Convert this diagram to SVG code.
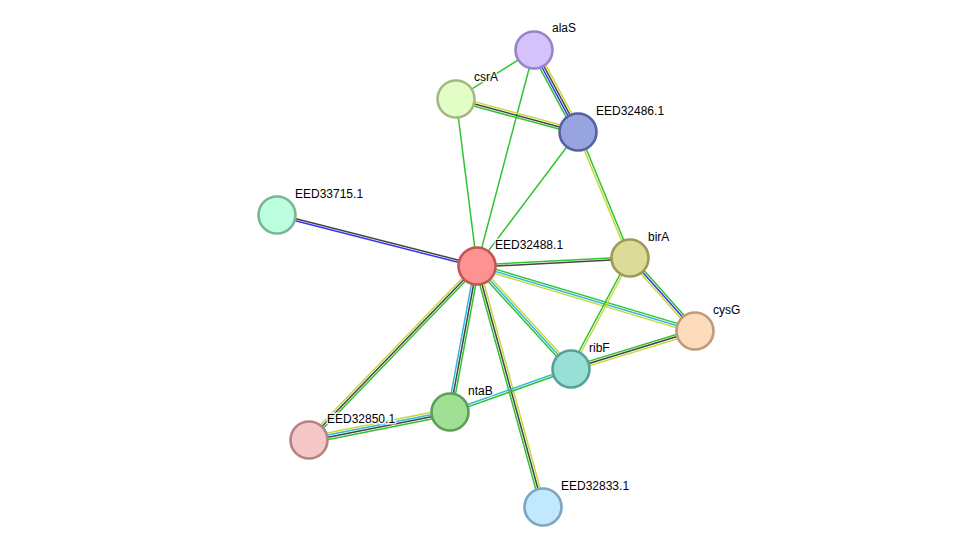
<svg xmlns="http://www.w3.org/2000/svg" width="976" height="553" viewBox="0 0 976 553">
<style>
line{stroke-width:1.5;fill:none}
.g{stroke:#2fc42f}.y{stroke:#c8d93a}.k{stroke:#444}.b{stroke:#3636f0}.c{stroke:#33b8dd}
circle{stroke-width:2.6}
text{font-family:"Liberation Sans",Arial,sans-serif;font-size:12px;fill:#000;stroke:#fff;stroke-width:3;stroke-opacity:0.8;paint-order:stroke;stroke-linejoin:round}
</style>
<rect width="976" height="553" fill="#fff"/>
<g id="connectors">
<g transform="translate(534,50) rotate(147.9)"><line class="g" x2="92.1"/></g>
<g transform="translate(534,50) rotate(61.8)"><line class="g" x2="93.1" y1="3.3" y2="3.3"/><line class="b" x2="93.1" y1="1.1" y2="1.1"/><line class="k" x2="93.1" y1="-1.1" y2="-1.1"/><line class="y" x2="93.1" y1="-3.3" y2="-3.3"/></g>
<g transform="translate(534,50) rotate(104.8)"><line class="g" x2="223.4"/></g>
<g transform="translate(456,99) rotate(15.1)"><line class="y" x2="126.4" y1="-2.2" y2="-2.2"/><line class="k" x2="126.4"/><line class="g" x2="126.4" y1="2.2" y2="2.2"/></g>
<g transform="translate(456,99) rotate(82.8)"><line class="g" x2="168.3"/></g>
<g transform="translate(578,132) rotate(127.0)"><line class="g" x2="167.8"/></g>
<g transform="translate(578,132) rotate(67.6)"><line class="y" x2="136.3" y1="1.1" y2="1.1"/><line class="g" x2="136.3" y1="-1.1" y2="-1.1"/></g>
<g transform="translate(277,215) rotate(14.3)"><line class="k" x2="206.4" y1="-1.1" y2="-1.1"/><line class="b" x2="206.4" y1="1.1" y2="1.1"/></g>
<g transform="translate(477,266) rotate(-3.0)"><line class="g" x2="153.2" y1="-1.1" y2="-1.1"/><line class="k" x2="153.2" y1="1.1" y2="1.1"/></g>
<g transform="translate(477,266) rotate(16.6)"><line class="g" x2="227.5" y1="-2.2" y2="-2.2"/><line class="c" x2="227.5"/><line class="y" x2="227.5" y1="2.2" y2="2.2"/></g>
<g transform="translate(477,266) rotate(47.6)"><line class="g" x2="139.4" y1="2.2" y2="2.2"/><line class="c" x2="139.4"/><line class="y" x2="139.4" y1="-2.2" y2="-2.2"/></g>
<g transform="translate(477,266) rotate(100.5)"><line class="c" x2="148.5" y1="2.2" y2="2.2"/><line class="k" x2="148.5"/><line class="g" x2="148.5" y1="-2.2" y2="-2.2"/></g>
<g transform="translate(477,266) rotate(134.0)"><line class="y" x2="241.9" y1="2.2" y2="2.2"/><line class="k" x2="241.9"/><line class="g" x2="241.9" y1="-2.2" y2="-2.2"/></g>
<g transform="translate(477,266) rotate(74.7)"><line class="g" x2="249.9" y1="2.2" y2="2.2"/><line class="k" x2="249.9"/><line class="y" x2="249.9" y1="-2.2" y2="-2.2"/></g>
<g transform="translate(630,258) rotate(48.3)"><line class="y" x2="97.7" y1="2.2" y2="2.2"/><line class="b" x2="97.7"/><line class="g" x2="97.7" y1="-2.2" y2="-2.2"/></g>
<g transform="translate(630,258) rotate(118.0)"><line class="g" x2="125.7" y1="1.1" y2="1.1"/><line class="y" x2="125.7" y1="-1.1" y2="-1.1"/></g>
<g transform="translate(571,369) rotate(-17.0)"><line class="g" x2="129.7" y1="-2.2" y2="-2.2"/><line class="k" x2="129.7"/><line class="y" x2="129.7" y1="2.2" y2="2.2"/></g>
<g transform="translate(571,369) rotate(160.4)"><line class="c" x2="128.4" y1="1.1" y2="1.1"/><line class="g" x2="128.4" y1="-1.1" y2="-1.1"/></g>
<g transform="translate(450,412) rotate(168.8)"><line class="y" x2="143.8" y1="3.3" y2="3.3"/><line class="c" x2="143.8" y1="1.1" y2="1.1"/><line class="k" x2="143.8" y1="-1.1" y2="-1.1"/><line class="g" x2="143.8" y1="-3.3" y2="-3.3"/></g>
</g>
<g id="alaS"><circle cx="534" cy="50" r="18.5" fill="#d4c2fc" stroke="#9a82c8"/></g>
<g id="csrA"><circle cx="456" cy="99" r="18.5" fill="#e2fdc6" stroke="#a2ba82"/></g>
<g id="EED32486.1"><circle cx="578" cy="132" r="18.5" fill="#98a4e0" stroke="#5561a0"/></g>
<g id="EED33715.1"><circle cx="277" cy="215" r="18.5" fill="#bdfde0" stroke="#7bb594"/></g>
<g id="EED32488.1"><circle cx="477" cy="266" r="18.5" fill="#fe9292" stroke="#c25656"/></g>
<g id="birA"><circle cx="630" cy="258" r="18.5" fill="#dcdb97" stroke="#9d9a56"/></g>
<g id="cysG"><circle cx="695" cy="331" r="18.5" fill="#fddcbe" stroke="#bf9b77"/></g>
<g id="ribF"><circle cx="571" cy="369" r="18.5" fill="#98dfd6" stroke="#57a09a"/></g>
<g id="ntaB"><circle cx="450" cy="412" r="18.5" fill="#a0e095" stroke="#5d9f56"/></g>
<g id="EED32850.1"><circle cx="309" cy="440" r="18.5" fill="#f6c7c7" stroke="#b58383"/></g>
<g id="EED32833.1"><circle cx="543" cy="507" r="18.5" fill="#c2e8fd" stroke="#7ea4c1"/></g>
<g id="labels">
<text x="552" y="32">alaS</text>
<text x="474" y="81">csrA</text>
<text x="596" y="115">EED32486.1</text>
<text x="295" y="198">EED33715.1</text>
<text x="495" y="249">EED32488.1</text>
<text x="648" y="241">birA</text>
<text x="713" y="314">cysG</text>
<text x="589" y="352">ribF</text>
<text x="468" y="395">ntaB</text>
<text x="327" y="423">EED32850.1</text>
<text x="561" y="490">EED32833.1</text>
</g>
</svg>
